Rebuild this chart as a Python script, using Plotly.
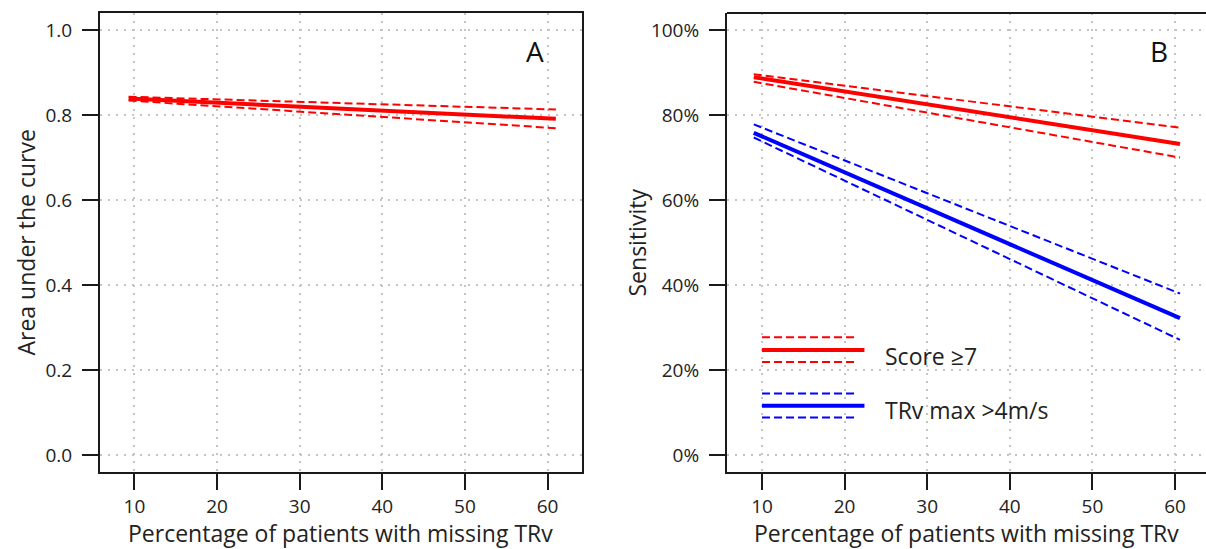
import plotly.graph_objects as go

# ---------------- data ----------------
x_auc = [9.3, 61.0]
auc_fit = [0.839, 0.791]
auc_hi = [0.843, 0.813]
auc_lo = [0.834, 0.769]

x_sens = [9.0, 60.6]
score_fit = [0.889, 0.732]
score_hi = [0.896, 0.770]
score_lo = [0.878, 0.700]
trv_fit = [0.758, 0.322]
trv_hi = [0.778, 0.380]
trv_lo = [0.747, 0.271]

x_ticks = [10, 20, 30, 40, 50, 60]
auc_ticks = [0.0, 0.2, 0.4, 0.6, 0.8, 1.0]
auc_ticklabels = ["0.0", "0.2", "0.4", "0.6", "0.8", "1.0"]
sens_ticks = [0.0, 0.2, 0.4, 0.6, 0.8, 1.0]
sens_ticklabels = ["0%", "20%", "40%", "60%", "80%", "100%"]
legend_labels = ["Score ≥7", "TRv max >4m/s"]
x_title = "Percentage of patients with missing TRv"
y_titles = ["Area under the curve", "Sensitivity"]
panel_labels = ["A", "B"]

RED = "#ff0000"
BLUE = "#0000ff"
FONT = "Open Sans"
DASH = "8px,4px"
TXT = "#222222"

fig = go.Figure()


def add_band(x, fit, hi, lo, color, xa, ya):
    fig.add_trace(go.Scatter(x=x, y=hi, mode="lines", xaxis=xa, yaxis=ya,
                             line=dict(color=color, width=2, dash=DASH), showlegend=False))
    fig.add_trace(go.Scatter(x=x, y=lo, mode="lines", xaxis=xa, yaxis=ya,
                             line=dict(color=color, width=2, dash=DASH), showlegend=False))
    fig.add_trace(go.Scatter(x=x, y=fit, mode="lines", xaxis=xa, yaxis=ya,
                             line=dict(color=color, width=4), showlegend=False))


add_band(x_auc, auc_fit, auc_hi, auc_lo, RED, "x", "y")
add_band(x_sens, score_fit, score_hi, score_lo, RED, "x2", "y2")
add_band(x_sens, trv_fit, trv_hi, trv_lo, BLUE, "x2", "y2")

W, H = 1206, 549
axis_common = dict(
    showline=True, linecolor="#1a1a1a", linewidth=2,
    ticks="outside", ticklen=16, tickwidth=2, tickcolor="#1a1a1a",
    showgrid=True, gridcolor="#c4c4c4", gridwidth=1.5, griddash="2px,6px",
    zeroline=False,
    tickfont=dict(family=FONT, size=19, color=TXT),
)

fig.update_layout(
    width=W, height=H,
    margin=dict(l=0, r=0, t=13, b=77),
    paper_bgcolor="white", plot_bgcolor="white",
    showlegend=False,
    font=dict(family=FONT, color=TXT),
    xaxis=dict(domain=[100 / W, 582 / W], range=[5.84, 64.16], tickvals=x_ticks,
               mirror=True, anchor="y", **axis_common),
    yaxis=dict(domain=[0, 1], range=[-0.04, 1.04], tickvals=auc_ticks,
               ticktext=auc_ticklabels, mirror=True, anchor="x",
               ticklabelstandoff=6, **axis_common),
    xaxis2=dict(domain=[727 / W, 1.0], range=[5.76, 63.75], tickvals=x_ticks,
                anchor="y2", **axis_common),
    yaxis2=dict(domain=[0, 1], range=[-0.04, 1.04], tickvals=sens_ticks,
                ticktext=sens_ticklabels, anchor="x2",
                ticklabelstandoff=6, **axis_common),
)

# top border of panel B (right border falls outside the picture)
fig.add_shape(type="line", xref="paper", yref="paper", x0=727 / W, x1=1.0, y0=1, y1=1,
              line=dict(color="#1a1a1a", width=2))

# legend glyphs in panel B
leg_x0, leg_x1 = 10.0, 21.6
for color, yc, yh, yl in [(RED, 0.247, 0.277, 0.219), (BLUE, 0.116, 0.145, 0.088)]:
    fig.add_shape(type="line", xref="x2", yref="y2", x0=leg_x0, x1=leg_x1 + 0.8, y0=yc, y1=yc,
                  line=dict(color=color, width=4))
    for yy in (yh, yl):
        fig.add_shape(type="line", xref="x2", yref="y2", x0=leg_x0, x1=leg_x1, y0=yy, y1=yy,
                      line=dict(color=color, width=2, dash=DASH))
for label, yy in zip(legend_labels, [0.232, 0.106]):
    fig.add_annotation(xref="x2", yref="y2", x=24.6, y=yy, text=label, showarrow=False,
                       xanchor="left", yanchor="middle",
                       font=dict(family=FONT, size=23, color=TXT))

# panel labels
fig.add_annotation(xref="x", yref="y", x=58.5, y=0.95, text=panel_labels[0], showarrow=False,
                   xanchor="center", yanchor="middle", font=dict(family=FONT, size=28, color="#111111"))
fig.add_annotation(xref="x2", yref="y2", x=58.0, y=0.95, text=panel_labels[1], showarrow=False,
                   xanchor="center", yanchor="middle", font=dict(family=FONT, size=28, color="#111111"))

# axis titles
title_y = (472 - 533) / 459
fig.add_annotation(xref="paper", yref="paper", x=340 / W, y=title_y, text=x_title, showarrow=False,
                   xanchor="center", yanchor="middle", font=dict(family=FONT, size=23, color=TXT))
fig.add_annotation(xref="paper", yref="paper", x=966 / W, y=title_y, text=x_title, showarrow=False,
                   xanchor="center", yanchor="middle", font=dict(family=FONT, size=23, color=TXT))
fig.add_annotation(xref="paper", yref="paper", x=25 / W, y=0.5, text=y_titles[0], showarrow=False,
                   textangle=-90, xanchor="center", yanchor="middle",
                   font=dict(family=FONT, size=23, color=TXT))
fig.add_annotation(xref="paper", yref="paper", x=636 / W, y=0.5, text=y_titles[1], showarrow=False,
                   textangle=-90, xanchor="center", yanchor="middle",
                   font=dict(family=FONT, size=23, color=TXT))

fig.write_html("out.html", config={"displayModeBar": False},
               post_script="document.body.style.margin='0';")
